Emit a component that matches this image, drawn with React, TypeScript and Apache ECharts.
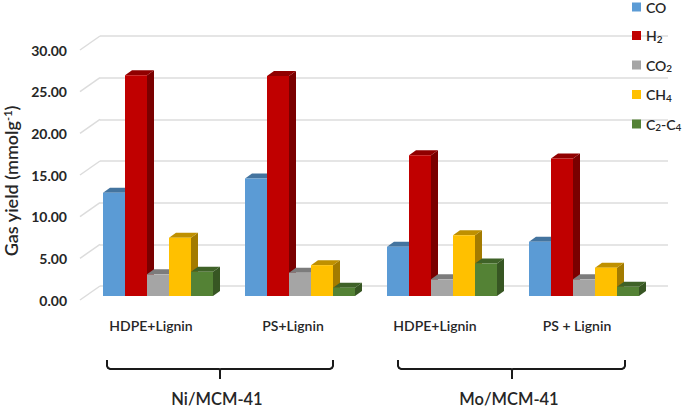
import React, { useEffect, useRef } from "react";
import * as echarts from "echarts";

const categories = ["HDPE+Lignin", "PS+Lignin", "HDPE+Lignin", "PS + Lignin"];
const gases = ["CO", "H2", "CO2", "CH4", "C2-C4"];
const coValues = [12.4, 14.1, 5.9, 6.5];
const h2Values = [26.5, 26.4, 16.9, 16.5];
const co2Values = [2.6, 2.8, 2.0, 2.0];
const ch4Values = [7.0, 3.7, 7.3, 3.4];
const c2c4Values = [2.9, 1.0, 3.9, 1.1];
const yTicks = [0, 5, 10, 15, 20, 25, 30];
const catalysts = ["Ni/MCM-41", "Mo/MCM-41"];

const frontColors = ["#5B9BD5", "#C00000", "#A5A5A5", "#FFC000", "#548235"];
const topColors = ["#44749F", "#900000", "#7C7C7C", "#BF9000", "#3F6228"];
const sideColors = ["#3A6690", "#7A0000", "#6E6E6E", "#A37B00", "#375623"];
const FONT = "Lato";
const TEXT = "#262626";

const renderBar = (si: number) => (params: any, api: any) => {
  const cat = api.value(0);
  const val = api.value(1);
  const barW = 22;
  const groupW = barW * 5;
  const [cx, top] = api.coord([cat, val]);
  const [, base] = api.coord([cat, 0]);
  const x0 = cx - groupW / 2 + si * barW;
  const x1 = x0 + barW;
  const dx = 7;
  const dy = 5;
  return {
    type: "group",
    children: [
      {
        type: "polygon",
        shape: { points: [[x1, top], [x1 + dx, top - dy], [x1 + dx, base - dy], [x1, base]] },
        style: { fill: sideColors[si] },
      },
      {
        type: "polygon",
        shape: { points: [[x0, top], [x0 + dx, top - dy], [x1 + dx, top - dy], [x1, top]] },
        style: { fill: topColors[si] },
      },
      { type: "rect", shape: { x: x0, y: top, width: barW, height: base - top }, style: { fill: frontColors[si] } },
    ],
  };
};

const subscript: Record<string, string> = {
  CO: "{a|CO}",
  H2: "{a|H}{s|2}",
  CO2: "{a|CO}{s|2}",
  CH4: "{a|CH}{s|4}",
  "C2-C4": "{a|C}{s|2}{a|-C}{s|4}",
};

const bracket = (x0: number, x1: number, xm: number) => ({
  type: "polyline",
  silent: true,
  shape: {
    points: [
      [x0, 360], [x0, 366], [x0 + 1, 368], [x0 + 3, 369], [xm - 1, 369], [xm, 370], [xm, 379], [xm, 370],
      [xm + 1, 369], [x1 - 3, 369], [x1 - 1, 368], [x1, 366], [x1, 360],
    ],
  },
  style: { fill: "none", stroke: "#1a1a1a", lineWidth: 2 },
});

export default function App() {
  const ref = useRef<HTMLDivElement>(null);
  useEffect(() => {
    const chart = echarts.init(ref.current!, undefined, { renderer: "svg" });
    const allValues = [coValues, h2Values, co2Values, ch4Values, c2c4Values];
    chart.setOption({
      animation: false,
      backgroundColor: "#ffffff",
      legend: {
        orient: "vertical",
        left: 632,
        top: 0,
        padding: 0,
        itemWidth: 9,
        itemHeight: 9,
        itemGap: 14.5,
        selectedMode: false,
        data: gases.map((g, i) => ({ name: g, icon: "rect", itemStyle: { color: frontColors[i] } })),
        formatter: (n: string) => subscript[n],
        textStyle: {
          rich: {
            a: { fontFamily: FONT, fontSize: 14, color: TEXT, fontWeight: 600 },
            s: { fontFamily: FONT, fontSize: 10, color: TEXT, fontWeight: 600, verticalAlign: "bottom", padding: [6, 0, 0, 0] },
          },
        },
      },
      grid: [
        { left: 100, width: 568, top: 36, height: 250, outerBoundsMode: "none" },
        { left: 80, width: 568, top: 50, height: 250, outerBoundsMode: "none" },
        { left: 87, width: 568, top: 46, height: 250, outerBoundsMode: "none" },
      ],
      xAxis: [0, 1, 2].map((i) => ({
        gridIndex: i,
        type: "category",
        data: categories,
        axisLine: { show: false },
        axisTick: { show: false },
        axisLabel:
          i === 1
            ? { show: true, fontFamily: FONT, fontSize: 14, fontWeight: 600, color: TEXT, margin: 18 }
            : { show: false },
      })),
      yAxis: [0, 1, 2].map((i) => ({
        gridIndex: i,
        type: "value",
        min: 0,
        max: 30,
        interval: 5,
        axisLine: { show: false },
        axisTick: { show: false },
        splitLine: { show: i === 0, lineStyle: { color: "#DCDCDC", width: 1.5 } },
        axisLabel:
          i === 1
            ? {
                show: true,
                fontFamily: FONT,
                fontSize: 14,
                fontWeight: 700,
                color: TEXT,
                margin: 13,
                formatter: (v: number) => v.toFixed(2),
              }
            : { show: false },
        ...(i === 1
          ? {
              name: "{t|Gas yield (mmolg}{s|-1}{t|)}",
              nameLocation: "middle",
              nameGap: 59,
              nameTextStyle: {
                padding: [0, 12, 0, 0],
                rich: {
                  t: { fontFamily: FONT, fontSize: 18, color: TEXT, fontWeight: 600 },
                  s: { fontFamily: FONT, fontSize: 11, color: TEXT, fontWeight: 600, verticalAlign: "top" },
                },
              },
            }
          : {}),
      })),
      series: [
        {
          type: "custom",
          name: "depth",
          xAxisIndex: 0,
          yAxisIndex: 0,
          silent: true,
          clip: false,
          data: yTicks.map((t) => [0, t]),
          encode: { x: 0, y: 1 },
          renderItem: (_p: any, api: any) => {
            const [cx, y] = api.coord([0, api.value(1)]);
            const x = cx - api.size([1, 0])[0] / 2;
            return {
              type: "line",
              shape: { x1: x, y1: y, x2: x - 20, y2: y + 14 },
              style: { stroke: "#DCDCDC", lineWidth: 1.5 },
            };
          },
        },
        ...gases.map((g, si) => ({
          type: "custom",
          name: g,
          xAxisIndex: 2,
          yAxisIndex: 2,
          clip: false,
          itemStyle: { color: frontColors[si] },
          data: allValues[si].map((v, i) => [i, v]),
          encode: { x: 0, y: 1 },
          renderItem: renderBar(si),
        })),
      ],
      graphic: [
        bracket(107, 333, 220),
        bracket(398, 625, 512),
        {
          type: "text",
          x: 217,
          y: 399,
          silent: true,
          style: {
            text: catalysts[0],
            fontFamily: FONT,
            fontSize: 16.5,
            fontWeight: 600,
            fill: TEXT,
            align: "center",
            verticalAlign: "middle",
          },
        },
        {
          type: "text",
          x: 509,
          y: 399,
          silent: true,
          style: {
            text: catalysts[1],
            fontFamily: FONT,
            fontSize: 16.5,
            fontWeight: 600,
            fill: TEXT,
            align: "center",
            verticalAlign: "middle",
          },
        },
      ],
    });
    return () => chart.dispose();
  }, []);
  return <div ref={ref} style={{ position: "absolute", left: 0, top: 0, width: 685, height: 409 }} />;
}
